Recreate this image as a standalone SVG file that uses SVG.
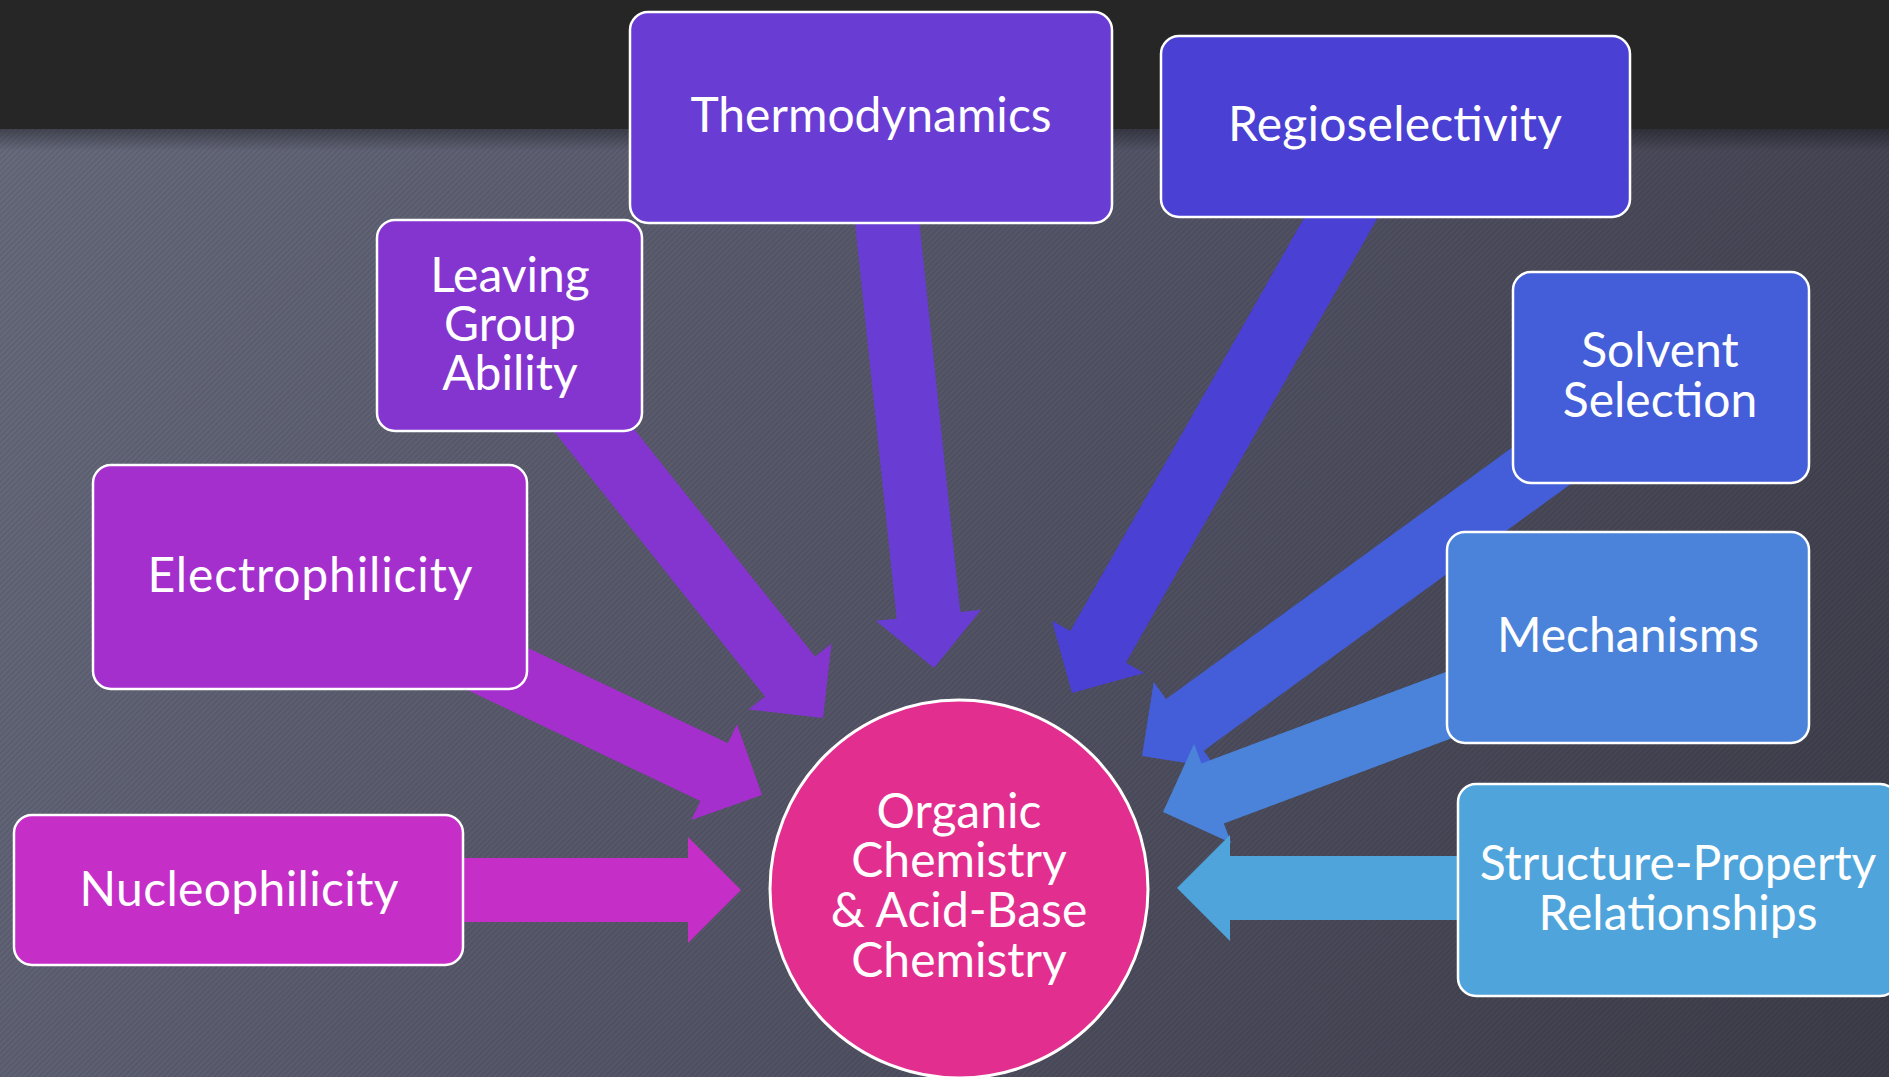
<svg xmlns="http://www.w3.org/2000/svg" width="1889" height="1077" viewBox="0 0 1889 1077">
  <defs>
    <linearGradient id="bg" x1="0" y1="129" x2="1889" y2="1077" gradientUnits="userSpaceOnUse">
      <stop offset="0" stop-color="#676b7d"/>
      <stop offset="0.5" stop-color="#535466"/>
      <stop offset="1" stop-color="#3d3c49"/>
    </linearGradient>
    <linearGradient id="shadow" x1="0" y1="0" x2="0" y2="1">
      <stop offset="0" stop-color="#000" stop-opacity="0.35"/>
      <stop offset="1" stop-color="#000" stop-opacity="0"/>
    </linearGradient>
    <pattern id="stripes" width="4" height="4" patternUnits="userSpaceOnUse" patternTransform="rotate(45)">
      <rect x="0" y="0" width="1.6" height="4" fill="#000" fill-opacity="0.09"/>
    </pattern>
  </defs>
  <style>
    .box { stroke: #ffffff; stroke-width: 2.5; }
    .lbl { font-family: Lato, "Open Sans", "Liberation Sans", sans-serif; font-size: 48px; fill: #ffffff; text-anchor: middle; }
  </style>

  <!-- background -->
  <rect x="0" y="0" width="1889" height="1077" fill="url(#bg)"/>
  <rect x="0" y="129" width="1889" height="948" fill="url(#stripes)"/>
  <rect x="0" y="129" width="1889" height="22" fill="url(#shadow)"/>
  <rect x="0" y="0" width="1889" height="129" fill="#262626"/>

  <!-- connectors -->
  <g id="connectors">
    <polygon fill="#c52fc8" transform="translate(741,890) rotate(0)" points="-441,-32 -53,-32 -53,-53 0,0 -53,53 -53,32 -441,32"/>
    <polygon fill="#a52fcd" transform="translate(762,795) rotate(25.5)" points="-480,-32 -53,-32 -53,-53 0,0 -53,53 -53,32 -480,32"/>
    <polygon fill="#8535cf" transform="translate(823,718) rotate(51.5)" points="-500,-32 -53,-32 -53,-53 0,0 -53,53 -53,32 -500,32"/>
    <polygon fill="#693cd3" transform="translate(934,668) rotate(84)" points="-540,-32 -53,-32 -53,-53 0,0 -53,53 -53,32 -540,32"/>
    <polygon fill="#4a40d4" transform="translate(1072,693) rotate(119.5)" points="-600,-32 -53,-32 -53,-53 0,0 -53,53 -53,32 -600,32"/>
    <polygon fill="#445dd8" transform="translate(1142,756) rotate(144)" points="-600,-32 -53,-32 -53,-53 0,0 -53,53 -53,32 -600,32"/>
    <polygon fill="#4a83d9" transform="translate(1163,812) rotate(159.5)" points="-480,-32 -53,-32 -53,-53 0,0 -53,53 -53,32 -480,32"/>
    <polygon fill="#4fa5db" transform="translate(1177,888) rotate(180)" points="-500,-32 -53,-32 -53,-53 0,0 -53,53 -53,32 -500,32"/>
  </g>

  <!-- nodes -->
  <g id="thermodynamics">
    <rect class="box" x="630" y="12" width="482" height="211" rx="18" fill="#693cd3"/>
    <text class="lbl" x="871" y="132">Thermodynamics</text>
  </g>
  <g id="regioselectivity">
    <rect class="box" x="1161" y="36" width="469" height="181" rx="18" fill="#4a40d4"/>
    <text class="lbl" x="1395" y="141" textLength="334" lengthAdjust="spacing">Regioselectivity</text>
  </g>
  <g id="leaving-group">
    <rect class="box" x="377" y="220" width="265" height="211" rx="18" fill="#8535cf"/>
    <text class="lbl"><tspan x="510" y="292">Leaving</tspan><tspan x="510" y="341">Group</tspan><tspan x="510" y="390">Ability</tspan></text>
  </g>
  <g id="electrophilicity">
    <rect class="box" x="93" y="465" width="434" height="224" rx="18" fill="#a52fcd"/>
    <text class="lbl" x="310" y="592" textLength="325" lengthAdjust="spacing">Electrophilicity</text>
  </g>
  <g id="nucleophilicity">
    <rect class="box" x="14" y="815" width="449" height="150" rx="18" fill="#c52fc8"/>
    <text class="lbl" x="239" y="906" textLength="319" lengthAdjust="spacing">Nucleophilicity</text>
  </g>
  <g id="solvent-selection">
    <rect class="box" x="1513" y="272" width="296" height="211" rx="18" fill="#445dd8"/>
    <text class="lbl"><tspan x="1660" y="367">Solvent</tspan><tspan x="1660" y="417">Selection</tspan></text>
  </g>
  <g id="mechanisms">
    <rect class="box" x="1447" y="532" width="362" height="211" rx="18" fill="#4a83d9"/>
    <text class="lbl" x="1628" y="652">Mechanisms</text>
  </g>
  <g id="structure-property">
    <rect class="box" x="1458" y="784" width="440" height="212" rx="18" fill="#4fa5db"/>
    <text class="lbl"><tspan x="1678" y="880">Structure-Property</tspan><tspan x="1678" y="930">Relationships</tspan></text>
  </g>
  <g id="center">
    <circle cx="959" cy="889" r="189" fill="#e22e8f" stroke="#ffffff" stroke-width="3"/>
    <text class="lbl"><tspan x="959" y="828">Organic</tspan><tspan x="959" y="877">Chemistry</tspan><tspan x="959" y="927">&amp; Acid-Base</tspan><tspan x="959" y="977">Chemistry</tspan></text>
  </g>
</svg>
